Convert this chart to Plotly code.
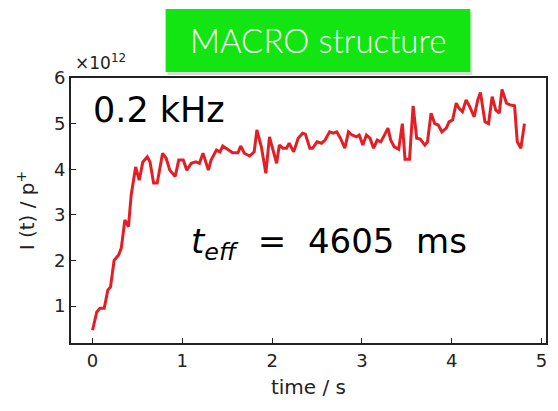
import plotly.graph_objects as go

# time (s) and intensity (x1e12 p+)
time_s = [0.0, 0.047, 0.083, 0.13, 0.17, 0.2, 0.24, 0.29, 0.32, 0.36, 0.40, 0.43, 0.48, 0.52,
          0.56, 0.61, 0.64, 0.68, 0.72, 0.78, 0.82, 0.86, 0.92, 0.96, 1.01, 1.05, 1.10, 1.15,
          1.19, 1.23, 1.29, 1.32, 1.38, 1.42, 1.45, 1.51, 1.56, 1.62, 1.65, 1.69, 1.75, 1.80,
          1.83, 1.88, 1.93, 1.97, 2.05, 2.08, 2.12, 2.16, 2.19, 2.24, 2.29, 2.34, 2.37, 2.42,
          2.45, 2.50, 2.55, 2.59, 2.64, 2.68, 2.72, 2.76, 2.81, 2.85, 2.89, 2.94, 2.97, 3.01,
          3.05, 3.09, 3.13, 3.17, 3.21, 3.24, 3.29, 3.32, 3.36, 3.41, 3.45, 3.48, 3.53, 3.57,
          3.61, 3.65, 3.70, 3.73, 3.77, 3.81, 3.85, 3.89, 3.94, 3.97, 4.01, 4.05, 4.08, 4.12,
          4.16, 4.20, 4.25, 4.29, 4.32, 4.37, 4.41, 4.45, 4.49, 4.53, 4.56, 4.61, 4.65, 4.70,
          4.73, 4.77, 4.81]
intensity = [0.47, 0.87, 0.95, 0.95, 1.35, 1.42, 2.0, 2.12, 2.27, 2.89, 2.74, 3.43, 4.05, 3.76,
             4.16, 4.27, 4.16, 3.7, 3.7, 4.35, 4.24, 3.98, 3.84, 4.2, 4.2, 3.98, 4.13, 4.16,
             4.13, 4.35, 3.98, 4.2, 4.42, 4.38, 4.51, 4.42, 4.36, 4.36, 4.51, 4.35, 4.29, 4.38,
             4.86, 4.49, 3.91, 4.71, 4.13, 4.53, 4.46, 4.46, 4.57, 4.38, 4.68, 4.79, 4.77, 4.46,
             4.46, 4.6, 4.57, 4.64, 4.82, 4.79, 4.82, 4.68, 4.46, 4.82, 4.75, 4.71, 4.75, 4.53,
             4.75, 4.68, 4.46, 4.64, 4.6, 4.71, 4.9, 4.64, 4.49, 4.44, 5.0, 4.22, 4.22, 5.39,
             4.68, 4.66, 4.53, 4.6, 5.23, 5.0, 4.97, 4.82, 4.9, 5.04, 5.08, 5.45, 5.34, 5.26,
             5.52, 5.37, 5.15, 5.52, 5.68, 5.04, 5.0, 5.59, 5.3, 5.23, 5.75, 5.45, 5.41, 5.39,
             4.6, 4.46, 5.0]

x_ticks = [0, 1, 2, 3, 4, 5]
y_ticks = [1, 2, 3, 4, 5, 6]

L, R, T, B = 71, 548, 78, 343
W, H = R - L, B - T


def px(x):
    return (x - L) / W


def py(y):
    return (B - y) / H


fig = go.Figure()
fig.add_trace(go.Scatter(x=time_s, y=intensity, mode="lines",
                         line=dict(color="#e31e24", width=3), showlegend=False))

axis_font = dict(family="DejaVu Sans", size=18, color="#222")
fig.update_layout(
    width=558, height=411,
    margin=dict(l=L, r=558 - R, t=T, b=411 - B),
    paper_bgcolor="white", plot_bgcolor="white",
    xaxis=dict(range=[-0.24, 5.05], tickvals=x_ticks, ticks="inside", ticklen=5,
               tickcolor="#222", showgrid=False, zeroline=False, showline=True,
               linecolor="#222", linewidth=2, mirror=True, tickfont=axis_font,
               title=dict(text="time / s", font=dict(family="DejaVu Sans", size=20, color="#222"),
                          standoff=10)),
    yaxis=dict(range=[0.19, 6.0], tickvals=y_ticks, ticks="inside", ticklen=5,
               tickcolor="#222", showgrid=False, zeroline=False, showline=True,
               linecolor="#222", linewidth=2, mirror=True, tickfont=axis_font,
               title=dict(text="I (t) / p<sup>+</sup>",
                          font=dict(family="DejaVu Sans", size=20, color="#222"), standoff=14)),
)

# shadow and green title box
fig.add_shape(type="rect", xref="paper", yref="paper",
              x0=px(168), x1=px(474), y0=py(75), y1=py(12),
              fillcolor="rgba(0,0,0,0.15)", line=dict(width=0))
fig.add_shape(type="rect", xref="paper", yref="paper",
              x0=px(166), x1=px(472), y0=py(72), y1=py(9),
              fillcolor="#12e512", line=dict(width=0))
fig.add_annotation(xref="paper", yref="paper", x=px(319), y=py(40),
                   xanchor="center", yanchor="middle",
                   text="MACRO structure", showarrow=False,
                   font=dict(family="Lato", size=33, color="white", weight=300))

fig.add_annotation(xref="paper", yref="paper", x=px(73), y=py(62),
                   xanchor="left", yanchor="middle", text="×10<sup>12</sup>", showarrow=False,
                   font=dict(family="DejaVu Sans", size=17, color="#222"))

fig.add_annotation(xref="paper", yref="paper", x=px(91), y=py(110),
                   xanchor="left", yanchor="middle", text="0.2 kHz", showarrow=False,
                   font=dict(family="DejaVu Sans", size=35, color="black"))

fig.add_annotation(xref="paper", yref="paper", x=px(189), y=py(243),
                   xanchor="left", yanchor="middle",
                   text="<i>t</i><sub><i>eff</i></sub>&nbsp; = &nbsp;4605&nbsp; ms",
                   showarrow=False,
                   font=dict(family="DejaVu Sans", size=34, color="black"))

fig.write_html("out.html")
